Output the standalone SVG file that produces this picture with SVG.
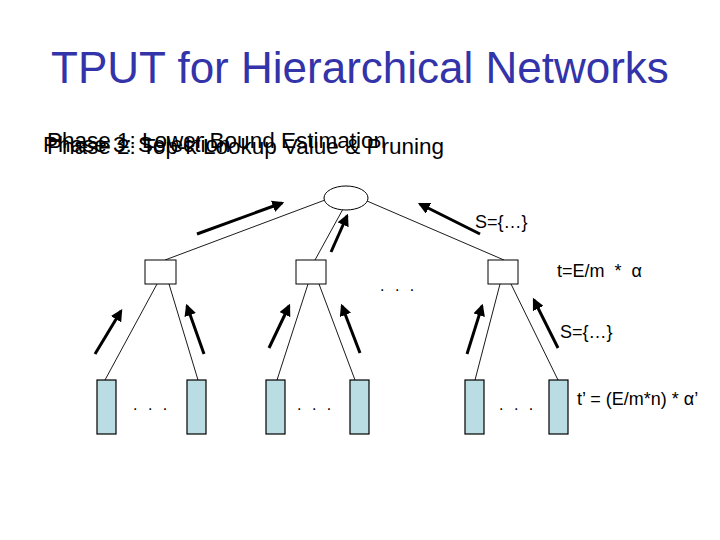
<svg xmlns="http://www.w3.org/2000/svg" width="720" height="540" viewBox="0 0 720 540">
<defs>
<style>
.t{font-family:"Liberation Sans",Arial,sans-serif;}
.title{font-size:44px;fill:#3333aa;}
.ph{font-size:22.5px;fill:#000;}
.lbl{font-size:18px;fill:#000;}
.dots{font-size:16px;fill:#000;letter-spacing:3px;}
.node{fill:#fff;stroke:#000;stroke-width:1;}
.leaf{fill:#b9dde2;stroke:#000;stroke-width:1.2;}
.edge{stroke:#000;stroke-width:0.9;fill:none;}
.arr{stroke:#000;stroke-width:3;fill:none;marker-end:url(#ah);}
</style>
<marker id="ah" viewBox="0 0 10 10" refX="8" refY="5" markerWidth="4" markerHeight="4" orient="auto" markerUnits="strokeWidth">
<path d="M0,0 L10,5 L0,10 z" fill="#000"/>
</marker>
</defs>
<rect width="720" height="540" fill="#fff"/>
<text class="t title" x="360" y="83" text-anchor="middle">TPUT for Hierarchical Networks</text>
<g id="header">
<text class="t ph" x="47" y="148">Phase 1: Lower Bound Estimation</text>
<text class="t ph" x="47" y="154">Phase 2: Top-k Lookup Value &amp; Pruning</text>
<text class="t ph" x="43" y="152">Phase 3: Selection</text>
</g>
<g id="connectors">
<line class="edge" x1="325" y1="200" x2="165" y2="260"/>
<line class="edge" x1="343" y1="209" x2="315" y2="260"/>
<line class="edge" x1="367" y1="201" x2="504" y2="260"/>
<line class="edge" x1="157" y1="284" x2="105" y2="380"/>
<line class="edge" x1="169" y1="284" x2="198" y2="380"/>
<line class="edge" x1="308" y1="284" x2="277" y2="380"/>
<line class="edge" x1="319" y1="284" x2="355" y2="380"/>
<line class="edge" x1="500" y1="284" x2="475" y2="380"/>
<line class="edge" x1="511" y1="284" x2="558" y2="380"/>
<line class="arr" x1="197" y1="234" x2="282" y2="203"/>
<line class="arr" x1="331" y1="252" x2="347" y2="216"/>
<line class="arr" x1="480" y1="234" x2="420" y2="204"/>
<line class="arr" x1="95" y1="354" x2="121" y2="311"/>
<line class="arr" x1="204" y1="354" x2="187" y2="306"/>
<line class="arr" x1="269" y1="348" x2="289" y2="306"/>
<line class="arr" x1="360" y1="353" x2="342" y2="306"/>
<line class="arr" x1="467" y1="354" x2="482" y2="306"/>
<line class="arr" x1="558" y1="348" x2="534" y2="300"/>
</g>
<g id="root"><ellipse class="node" cx="346" cy="198" rx="22" ry="12"/></g>
<g id="mid1"><rect class="node" x="145" y="260" width="31" height="24"/></g>
<g id="mid2"><rect class="node" x="296" y="260" width="30" height="24"/></g>
<g id="mid3"><rect class="node" x="488" y="260" width="30" height="24"/></g>
<g id="leaf1"><rect class="leaf" x="97" y="380" width="19" height="54"/></g>
<g id="leaf2"><rect class="leaf" x="187" y="380" width="19" height="54"/></g>
<g id="leaf3"><rect class="leaf" x="266" y="380" width="19" height="54"/></g>
<g id="leaf4"><rect class="leaf" x="350" y="380" width="19" height="54"/></g>
<g id="leaf5"><rect class="leaf" x="465" y="380" width="19" height="54"/></g>
<g id="leaf6"><rect class="leaf" x="549" y="380" width="19" height="54"/></g>
<g id="labels">
<text class="t lbl" x="475" y="228">S={…}</text>
<text class="t lbl" x="557" y="277" xml:space="preserve">t=E/m  *  α</text>
<text class="t lbl" x="560" y="338">S={…}</text>
<text class="t lbl" x="577" y="405">t’ = (E/m*n) * α’</text>
<text class="t dots" x="380" y="291">. . .</text>
<text class="t dots" x="133" y="410">. . .</text>
<text class="t dots" x="297" y="410">. . .</text>
<text class="t dots" x="499" y="410">. . .</text>
</g>
</svg>
